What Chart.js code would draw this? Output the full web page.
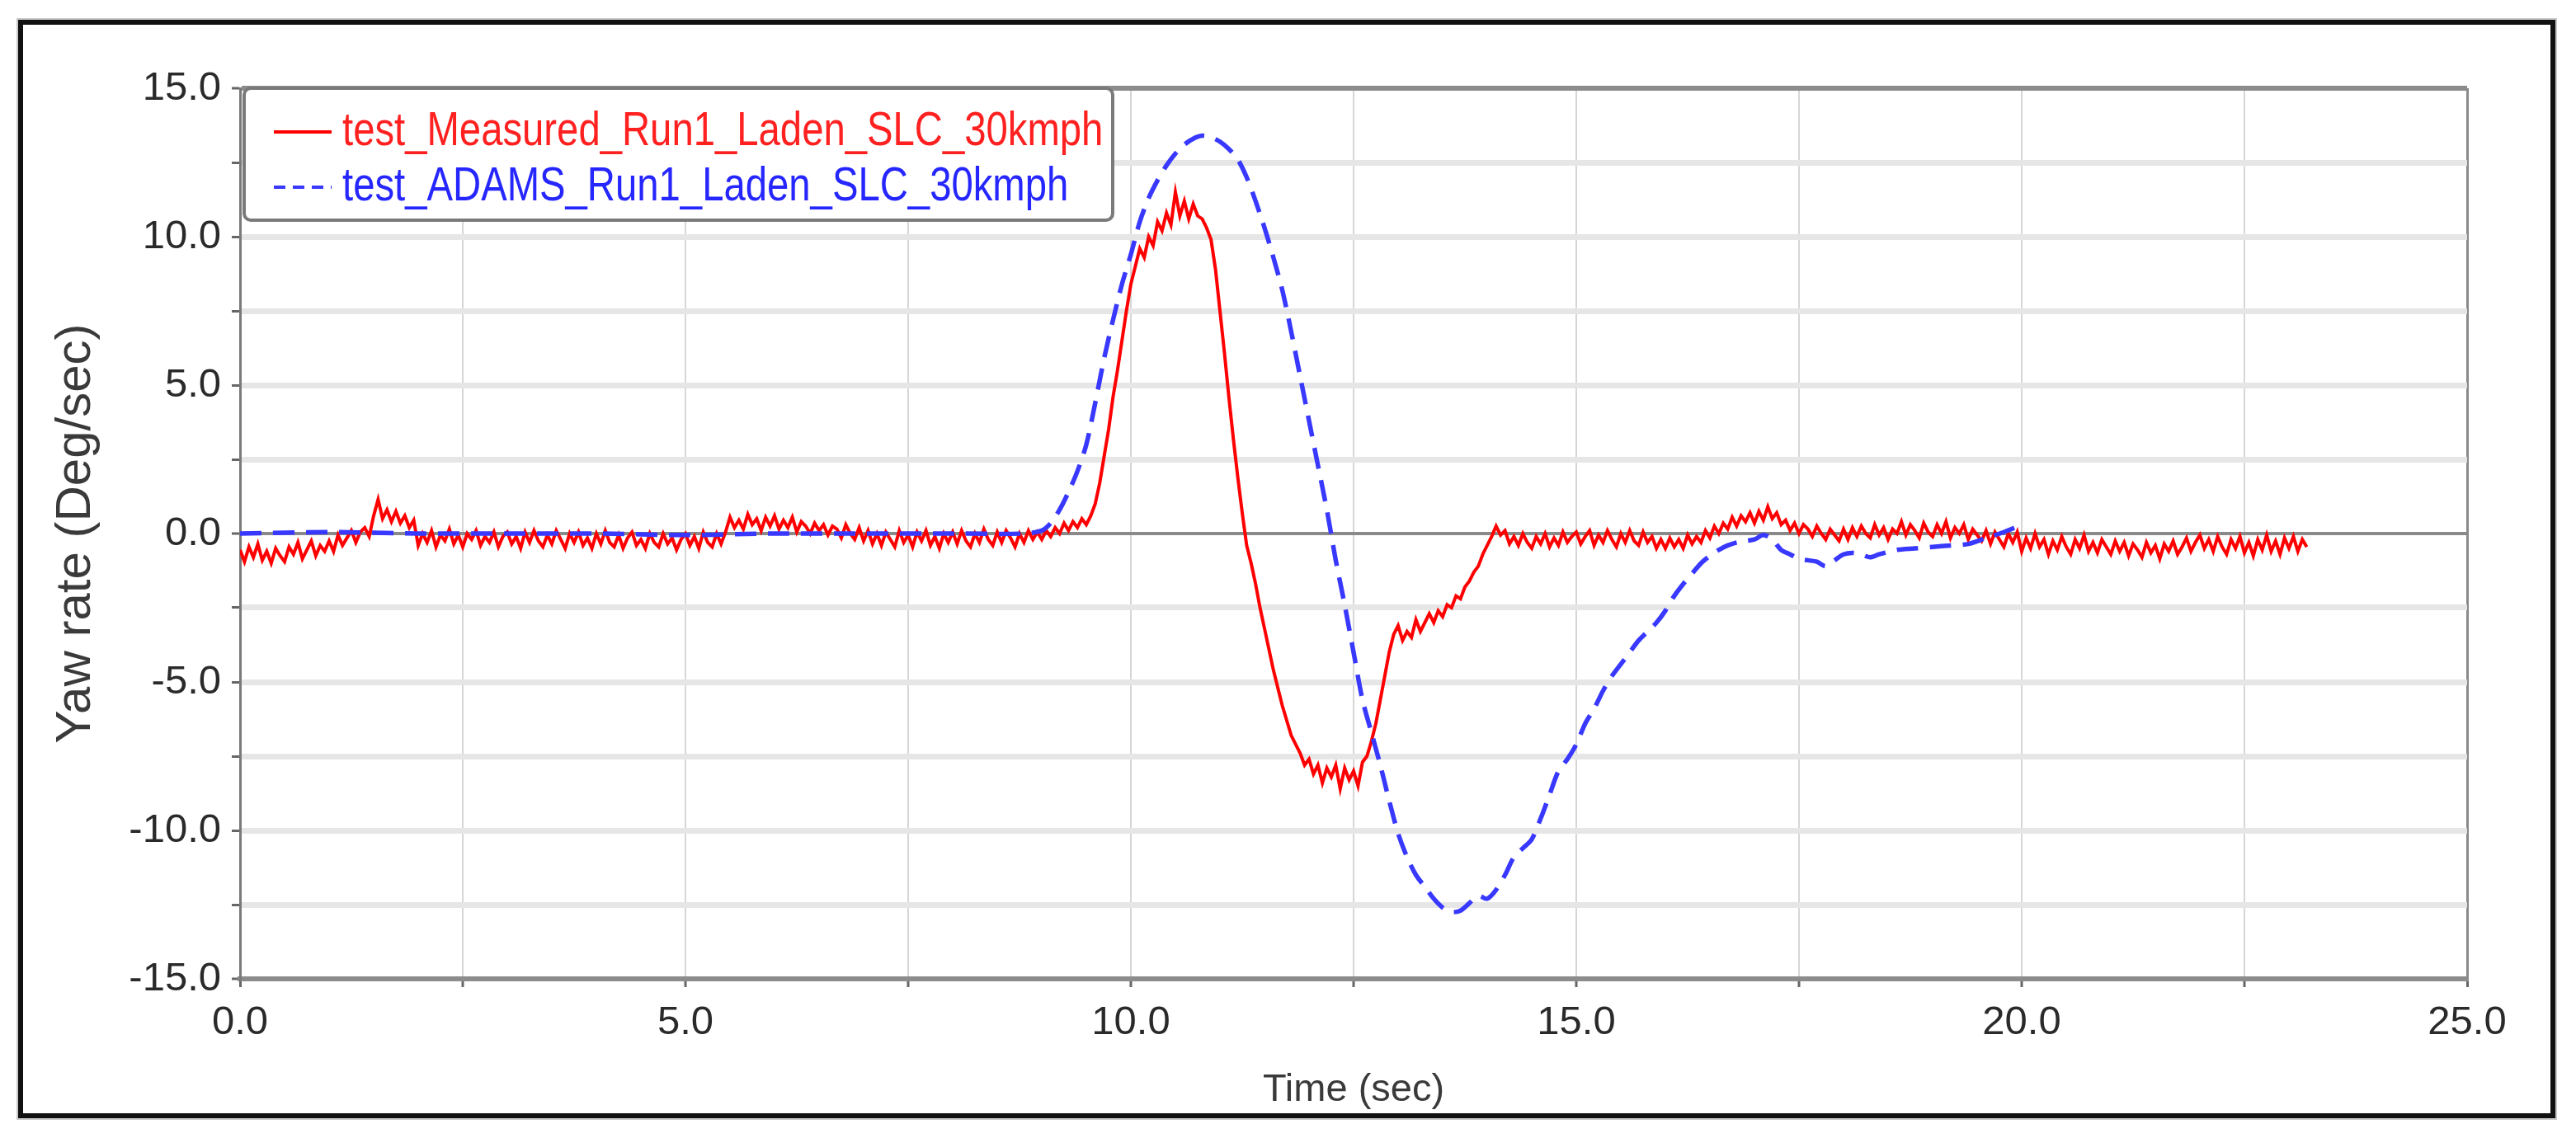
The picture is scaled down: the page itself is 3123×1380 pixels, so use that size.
<!DOCTYPE html>
<html>
<head>
<meta charset="utf-8">
<title>Yaw rate</title>
<script src="https://cdn.jsdelivr.net/npm/chart.js@4.4.1/dist/chart.umd.min.js"></script>
<style>
	html, body { margin: 0; padding: 0; background: #fff; }
	canvas { display: block; }
</style>
</head>
<body>
<canvas id="yawChart" width="3123" height="1380"></canvas>
<script>
// Series names, as in the legend
const seriesNames = [
	"test_Measured_Run1_Laden_SLC_30kmph",
	"test_ADAMS_Run1_Laden_SLC_30kmph",
];

// Measured yaw rate (deg/s), one sample every 0.05 s starting at t = 0
// (one row per second)
const measuredStep = 0.05;
const measuredYaw = [
	-0.55, -0.95, -0.45, -0.8, -0.35, -0.9, -0.6, -1.0, -0.5, -0.75, -0.95, -0.45, -0.7, -0.3, -0.85, -0.55, -0.25, -0.75, -0.4, -0.6,
	-0.25, -0.6, -0.05, -0.4, -0.15, 0.1, -0.3, 0.05, 0.2, -0.1, 0.6, 1.15, 0.5, 0.8, 0.4, 0.75, 0.35, 0.6, 0.2, 0.45,
	-0.4, 0.0, -0.3, 0.1, -0.45, -0.05, -0.25, 0.15, -0.35, -0.05, -0.45, 0.0, -0.2, 0.1, -0.4, -0.1, -0.3, 0.05, -0.45, -0.1,
	0.05, -0.35, -0.1, -0.5, 0.05, -0.3, 0.1, -0.25, -0.45, -0.05, -0.35, 0.1, -0.2, -0.5, 0.0, -0.3, 0.05, -0.4, -0.15, -0.5,
	0.0, -0.35, 0.1, -0.3, -0.45, -0.05, -0.5, -0.15, 0.05, -0.4, -0.2, -0.5, 0.0, -0.3, -0.45, 0.0, -0.35, -0.15, -0.55, -0.2,
	0.0, -0.4, -0.1, -0.5, 0.05, -0.3, -0.45, 0.0, -0.35, 0.05, 0.55, 0.2, 0.45, 0.15, 0.65, 0.3, 0.5, 0.1, 0.55, 0.25,
	0.6, 0.15, 0.45, 0.2, 0.55, 0.05, 0.4, 0.25, 0.0, 0.35, 0.1, 0.3, -0.05, 0.25, 0.15, -0.15, 0.3, 0.0, -0.2, 0.2,
	-0.25, 0.1, -0.35, 0.0, -0.4, 0.05, -0.2, -0.45, 0.1, -0.3, -0.05, -0.45, 0.05, -0.25, 0.1, -0.4, -0.1, -0.5, 0.0, -0.3,
	0.05, -0.35, 0.1, -0.25, -0.45, 0.0, -0.3, 0.15, -0.2, -0.4, 0.05, -0.3, 0.1, -0.15, -0.45, 0.0, -0.3, 0.1, -0.2, 0.05,
	-0.2, 0.1, -0.1, 0.2, 0.0, 0.35, 0.1, 0.4, 0.2, 0.5, 0.3, 0.6, 1.0, 1.7, 2.6, 3.5, 4.6, 5.5, 6.5, 7.5,
	8.4, 9.0, 9.6, 9.3, 10.0, 9.7, 10.5, 10.2, 10.8, 10.4, 11.5, 10.7, 11.2, 10.6, 11.1, 10.7, 10.6, 10.3, 9.9, 8.9,
	7.5, 6.1, 4.6, 3.2, 1.9, 0.7, -0.4, -1.0, -1.7, -2.5, -3.2, -3.9, -4.6, -5.2, -5.8, -6.3, -6.8, -7.1, -7.4, -7.8,
	-7.6, -8.1, -7.8, -8.4, -7.9, -8.2, -7.8, -8.6, -7.9, -8.3, -8.0, -8.5, -7.7, -7.5, -7.0, -6.4, -5.6, -4.8, -4.0, -3.4,
	-3.1, -3.6, -3.3, -3.5, -2.9, -3.3, -3.0, -2.7, -3.0, -2.6, -2.8, -2.4, -2.5, -2.1, -2.2, -1.8, -1.6, -1.3, -1.1, -0.7,
	-0.4, -0.1, 0.25, -0.05, 0.1, -0.35, -0.1, -0.4, 0.0, -0.3, -0.5, -0.1, -0.35, 0.0, -0.45, -0.15, -0.4, 0.05, -0.3, -0.1,
	0.05, -0.35, -0.1, 0.1, -0.4, -0.05, -0.3, 0.1, -0.2, -0.45, 0.0, -0.3, 0.1, -0.25, -0.4, 0.05, -0.3, -0.1, -0.5, -0.2,
	-0.5, -0.15, -0.45, -0.2, -0.5, -0.05, -0.35, -0.1, -0.3, 0.1, -0.15, 0.25, 0.0, 0.35, 0.15, 0.55, 0.25, 0.6, 0.4, 0.7,
	0.35, 0.75, 0.45, 0.9, 0.5, 0.7, 0.3, 0.45, 0.1, 0.35, 0.0, 0.3, 0.15, -0.1, 0.25, 0.0, -0.2, 0.15, -0.05, -0.25,
	0.15, -0.2, 0.2, -0.1, 0.25, 0.0, -0.15, 0.3, -0.05, 0.2, -0.2, 0.15, 0.0, 0.4, -0.05, 0.3, 0.1, -0.15, 0.35, 0.05,
	-0.1, 0.3, 0.0, 0.4, -0.15, 0.2, 0.0, 0.3, -0.2, 0.15, -0.05, -0.25, 0.1, -0.35, 0.05, -0.2, -0.45, 0.0, -0.3, 0.05,
	-0.6, -0.15, -0.5, 0.0, -0.45, -0.2, -0.7, -0.25, -0.55, -0.1, -0.45, -0.7, -0.2, -0.5, -0.05, -0.6, -0.3, -0.65, -0.2, -0.45,
	-0.7, -0.25, -0.6, -0.3, -0.75, -0.35, -0.55, -0.8, -0.3, -0.65, -0.4, -0.85, -0.35, -0.6, -0.25, -0.7, -0.45, -0.15, -0.6, -0.3,
	-0.05, -0.5, -0.2, -0.6, -0.1, -0.45, -0.7, -0.2, -0.5, -0.1, -0.65, -0.3, -0.75, -0.2, -0.55, -0.05, -0.6, -0.25, -0.7, -0.15,
	-0.5, -0.1, -0.6, -0.2, -0.45,
];

// ADAMS simulation yaw rate (deg/s)
const adamsTime = [
	0, 1, 2, 3, 4, 5, 6, 7, 8, 8.8,
	9.0, 9.1, 9.2, 9.3, 9.4, 9.5, 9.6, 9.7, 9.8, 9.9,
	10.0, 10.1, 10.2, 10.3, 10.4, 10.5, 10.6, 10.7, 10.8, 10.9,
	11.0, 11.1, 11.2, 11.3, 11.4, 11.5, 11.6, 11.7, 11.8, 11.9,
	12.0, 12.1, 12.2, 12.3, 12.4, 12.5, 12.6, 12.7, 12.8, 12.9,
	13.0, 13.1, 13.2, 13.3, 13.4, 13.5, 13.6, 13.7, 13.8, 13.9,
	14.0, 14.1, 14.2, 14.3, 14.4, 14.5, 14.6, 14.7, 14.8, 14.9,
	15.0, 15.1, 15.2, 15.3, 15.4, 15.5, 15.6, 15.7, 15.8, 15.9,
	16.0, 16.1, 16.2, 16.3, 16.4, 16.5, 16.6, 16.7, 16.8, 16.9,
	17.0, 17.1, 17.2, 17.3, 17.4, 17.5, 17.6, 17.7, 17.8, 17.9,
	18.0, 18.1, 18.2, 18.3, 18.4, 18.6, 18.8, 19.0, 19.2, 19.4,
	19.6, 19.8, 20.0,
];
const adamsYaw = [
	0.0, 0.05, 0.0, 0.0, 0.0, -0.05, 0.0, 0.0, 0.0, 0.0,
	0.1, 0.35, 0.8, 1.4, 2.1, 3.0, 4.4, 5.9, 7.2, 8.4,
	9.4, 10.5, 11.3, 11.9, 12.4, 12.8, 13.1, 13.3, 13.4, 13.35,
	13.2, 12.95, 12.6, 12.0, 11.2, 10.3, 9.3, 8.2, 6.8, 5.3,
	3.8, 2.3, 0.8, -0.9, -2.4, -4.0, -5.6, -6.7, -7.8, -9.0,
	-10.1, -10.9, -11.5, -11.9, -12.3, -12.6, -12.75, -12.7, -12.45, -12.2,
	-12.3, -12.0, -11.5, -10.9, -10.6, -10.3, -9.6, -8.8, -8.0, -7.6,
	-7.1, -6.4, -5.9, -5.3, -4.8, -4.4, -4.0, -3.6, -3.3, -3.0,
	-2.6, -2.1, -1.7, -1.35, -1.0, -0.75, -0.55, -0.4, -0.3, -0.25,
	-0.2, -0.05, -0.2, -0.55, -0.7, -0.85, -0.9, -0.95, -1.1, -0.9,
	-0.7, -0.65, -0.7, -0.8, -0.7, -0.55, -0.5, -0.45, -0.4, -0.35,
	-0.15, 0.05, 0.3,
];

// Axis ranges and the ticks that carry a label
const xRange = [0, 25];
const yRange = [-15, 15];
const gridStep = 2.5;
const xLabelValues = [0, 5, 10, 15, 20, 25];
const yLabelValues = [-15, -10, -5, 0, 5, 10, 15];

const textFont = "'Liberation Sans', Arial, sans-serif";

const measuredPoints = measuredYaw.map((v, i) => ({ x: +(i * measuredStep).toFixed(2), y: v }));
const adamsPoints = adamsTime.map((t, i) => ({ x: t, y: adamsYaw[i] }));

// Outer black frame round the whole figure
const framePlugin = {
	id: "frame",
	afterDraw(chart) {
		const { ctx } = chart;
		ctx.save();
		ctx.strokeStyle = "#c8c8c8";
		ctx.lineWidth = 2;
		ctx.strokeRect(21, 23, 3078, 1334);
		ctx.strokeStyle = "#111";
		ctx.lineWidth = 6;
		ctx.strokeRect(25, 27, 3070, 1326);
		ctx.restore();
	},
};

// Legend box drawn inside the plot, top left; the text is set a little narrow
const boxLegendPlugin = {
	id: "boxLegend",
	afterDatasetsDraw(chart) {
		const { ctx, chartArea } = chart;
		const x = chartArea.left + 5;
		const y = chartArea.top;
		const w = 1053;
		const h = 160;
		ctx.save();
		ctx.beginPath();
		ctx.roundRect(x, y, w, h, 8);
		ctx.fillStyle = "#fff";
		ctx.fill();
		ctx.strokeStyle = "#7a7a7a";
		ctx.lineWidth = 4;
		ctx.stroke();

		const rows = [53, 120];
		chart.data.datasets.forEach((ds, i) => {
			const ly = y + rows[i];
			ctx.beginPath();
			ctx.setLineDash(ds.legendDash || []);
			ctx.strokeStyle = ds.borderColor;
			ctx.lineWidth = 4;
			ctx.moveTo(x + 36, ly);
			ctx.lineTo(x + 106, ly);
			ctx.stroke();
			ctx.setLineDash([]);

			ctx.save();
			ctx.translate(x + 119, ly);
			ctx.scale(0.815, 1);
			ctx.fillStyle = ds.legendTextColor;
			ctx.font = `58px ${textFont}`;
			ctx.textBaseline = "middle";
			ctx.textAlign = "left";
			ctx.fillText(ds.label, 0, 0);
			ctx.restore();
		});
		ctx.restore();
	},
};

new Chart(document.getElementById("yawChart"), {
	type: "line",
	data: {
		datasets: [
			{
				label: seriesNames[0],
				data: measuredPoints,
				borderColor: "#ff0000",
				legendTextColor: "#ff2020",
				borderWidth: 4,
				pointRadius: 0,
				tension: 0,
				fill: false,
				order: 1,
			},
			{
				label: seriesNames[1],
				data: adamsPoints,
				borderColor: "#3838ff",
				legendTextColor: "#2626ff",
				borderWidth: 5.5,
				borderDash: [26, 14],
				legendDash: [14, 9],
				pointRadius: 0,
				tension: 0.3,
				fill: false,
				order: 0,
			},
		],
	},
	options: {
		responsive: false,
		animation: false,
		devicePixelRatio: 1,
		layout: {
			padding: { top: 107, right: 132, bottom: 0, left: 0 },
		},
		plugins: {
			legend: { display: false },
			tooltip: { enabled: false },
		},
		scales: {
			x: {
				type: "linear",
				min: xRange[0],
				max: xRange[1],
				afterFit: (scale) => {
					scale.height = 193;
				},
				ticks: {
					stepSize: gridStep,
					autoSkip: false,
					maxRotation: 0,
					padding: 14,
					color: "#2a2a2a",
					font: { family: textFont, size: 49 },
					callback: (v) => (xLabelValues.includes(v) ? v.toFixed(1) : ""),
				},
				grid: {
					color: (c) => (c.tick && (c.tick.value === 0 || c.tick.value === 25) ? "#8a8a8a" : "#d6d6d6"),
					lineWidth: (c) => (c.tick && (c.tick.value === 0 || c.tick.value === 25) ? 3 : 2),
					tickColor: "#666",
					tickWidth: 3,
					tickLength: 10,
				},
				border: { display: true, color: "#8c8c8c", width: 6 },
				title: {
					display: true,
					text: "Time (sec)",
					color: "#3a3a3a",
					font: { family: textFont, size: 47 },
					padding: { top: 0, bottom: 30 },
				},
			},
			y: {
				type: "linear",
				min: yRange[0],
				max: yRange[1],
				afterFit: (scale) => {
					scale.width = 291;
				},
				ticks: {
					stepSize: gridStep,
					autoSkip: false,
					padding: 13,
					color: "#2a2a2a",
					font: { family: textFont, size: 49 },
					callback: (v) => (yLabelValues.includes(v) ? v.toFixed(1) : ""),
				},
				grid: {
					color: (c) => {
						const v = c.tick && c.tick.value;
						if (v === 0) return "#8a8a8a";
						if (v === 15 || v === -15) return "#8c8c8c";
						return "#e6e6e6";
					},
					lineWidth: (c) => {
						const v = c.tick && c.tick.value;
						if (v === 0) return 4;
						if (v === 15 || v === -15) return 6;
						return 7;
					},
					tickColor: "#666",
					tickWidth: 3,
					tickLength: 10,
				},
				border: { display: true, color: "#7a7a7a", width: 3 },
				title: {
					display: true,
					text: "Yaw rate (Deg/sec)",
					color: "#3a3a3a",
					font: { family: textFont, size: 60 },
					padding: { top: 56, bottom: 0 },
				},
			},
		},
	},
	plugins: [framePlugin, boxLegendPlugin],
});
</script>
</body>
</html>
